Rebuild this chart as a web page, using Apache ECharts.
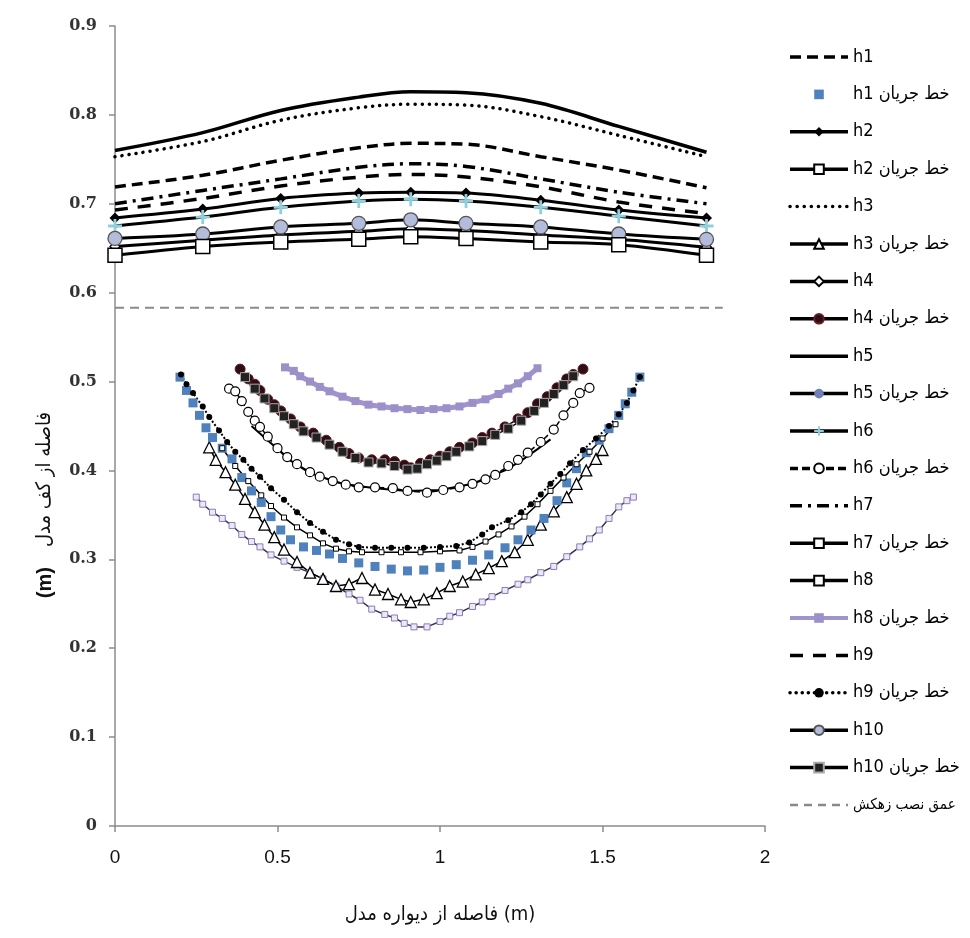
<!DOCTYPE html>
<html>
<head>
<meta charset="utf-8">
<script src="https://cdn.jsdelivr.net/npm/echarts@6/dist/echarts.min.js"></script>
<style>html,body{margin:0;padding:0;background:#fff}#c{width:970px;height:938px}</style>
</head>
<body>
<div id="c"></div>
<script>
// ---- tick labels ----
const xTicks = [0, 0.5, 1, 1.5, 2];
const yTicks = [0, 0.1, 0.2, 0.3, 0.4, 0.5, 0.6, 0.7, 0.8, 0.9];

// ---- water-surface profiles (x positions of the measuring points) ----
const xTop = [0, 0.27, 0.51, 0.75, 0.91, 1.08, 1.31, 1.55, 1.82];
const h1  = [0.719, 0.732, 0.749, 0.763, 0.768, 0.767, 0.753, 0.738, 0.718];
const h2  = [0.684, 0.694, 0.706, 0.712, 0.713, 0.712, 0.704, 0.693, 0.684];
const h3  = [0.753, 0.770, 0.794, 0.808, 0.812, 0.811, 0.798, 0.777, 0.753];
const h4  = [0.652, 0.659, 0.665, 0.669, 0.672, 0.670, 0.665, 0.660, 0.651];
const h5  = [0.760, 0.780, 0.805, 0.820, 0.826, 0.825, 0.813, 0.787, 0.758];
const h6  = [0.675, 0.685, 0.696, 0.703, 0.705, 0.703, 0.696, 0.686, 0.675];
const h7  = [0.700, 0.715, 0.728, 0.741, 0.745, 0.742, 0.728, 0.713, 0.700];
const h8  = [0.642, 0.652, 0.657, 0.660, 0.663, 0.661, 0.657, 0.654, 0.642];
const h9  = [0.693, 0.706, 0.720, 0.730, 0.733, 0.730, 0.719, 0.702, 0.689];
const h10 = [0.661, 0.666, 0.674, 0.678, 0.682, 0.678, 0.674, 0.666, 0.660];

// ---- drain installation depth ----
const drainDepth = 0.583;
const drainX = [0, 1.87];

// ---- streamlines [x, y] ----
const s1 = [[0.20,0.505],[0.22,0.49],[0.24,0.476],[0.26,0.462],[0.28,0.448],[0.30,0.437],[0.33,0.425],[0.36,0.413],[0.39,0.392],[0.42,0.377],[0.45,0.364],[0.48,0.348],[0.51,0.333],[0.54,0.322],[0.58,0.314],[0.62,0.310],[0.66,0.306],[0.70,0.301],[0.75,0.296],[0.80,0.292],[0.85,0.289],[0.90,0.287],[0.95,0.288],[1.00,0.291],[1.05,0.294],[1.10,0.299],[1.15,0.305],[1.20,0.313],[1.24,0.322],[1.28,0.333],[1.32,0.346],[1.36,0.366],[1.39,0.386],[1.42,0.402],[1.45,0.420],[1.49,0.434],[1.52,0.447],[1.55,0.462],[1.57,0.475],[1.59,0.488],[1.615,0.505]];
const s2 = [[0.33,0.425],[0.37,0.405],[0.41,0.388],[0.45,0.372],[0.48,0.360],[0.52,0.347],[0.56,0.336],[0.60,0.327],[0.64,0.318],[0.68,0.312],[0.72,0.309],[0.76,0.308],[0.82,0.308],[0.88,0.308],[0.94,0.308],[1.00,0.309],[1.06,0.310],[1.10,0.314],[1.14,0.320],[1.18,0.328],[1.22,0.337],[1.26,0.348],[1.30,0.362],[1.34,0.377],[1.38,0.392],[1.42,0.407],[1.46,0.421],[1.50,0.436],[1.54,0.452]];
const s3 = [[0.29,0.426],[0.31,0.412],[0.34,0.398],[0.37,0.384],[0.40,0.368],[0.43,0.353],[0.46,0.339],[0.49,0.325],[0.52,0.311],[0.56,0.297],[0.60,0.285],[0.64,0.278],[0.68,0.270],[0.72,0.272],[0.76,0.279],[0.80,0.266],[0.84,0.261],[0.88,0.255],[0.91,0.252],[0.95,0.255],[0.99,0.262],[1.03,0.270],[1.07,0.275],[1.11,0.283],[1.15,0.290],[1.19,0.298],[1.23,0.308],[1.27,0.322],[1.31,0.339],[1.35,0.354],[1.39,0.370],[1.42,0.385],[1.45,0.400],[1.48,0.413],[1.50,0.423]];
const s4 = [[0.385,0.514],[0.41,0.503],[0.43,0.497],[0.446,0.490],[0.47,0.480],[0.49,0.474],[0.51,0.467],[0.54,0.458],[0.57,0.449],[0.61,0.442],[0.65,0.434],[0.69,0.426],[0.72,0.419],[0.75,0.414],[0.79,0.412],[0.83,0.412],[0.86,0.410],[0.89,0.406],[0.91,0.403],[0.94,0.408],[0.97,0.412],[1.00,0.416],[1.03,0.421],[1.06,0.426],[1.10,0.431],[1.13,0.437],[1.16,0.442],[1.20,0.449],[1.24,0.458],[1.27,0.465],[1.30,0.475],[1.33,0.483],[1.36,0.493],[1.39,0.503],[1.41,0.508],[1.44,0.514]];
const s5 = [[0.42,0.450],[0.46,0.437],[0.50,0.424],[0.54,0.411],[0.60,0.397],[0.70,0.385],[0.80,0.380],[0.90,0.377],[1.00,0.378],[1.10,0.385],[1.20,0.400],[1.25,0.411],[1.30,0.424],[1.34,0.435]];
const s6 = [[0.351,0.492],[0.37,0.489],[0.39,0.478],[0.41,0.466],[0.43,0.456],[0.446,0.449],[0.47,0.438],[0.50,0.425],[0.53,0.415],[0.56,0.407],[0.60,0.398],[0.63,0.393],[0.67,0.388],[0.71,0.384],[0.75,0.381],[0.80,0.381],[0.855,0.380],[0.90,0.377],[0.96,0.375],[1.01,0.378],[1.06,0.381],[1.10,0.385],[1.14,0.390],[1.17,0.395],[1.21,0.405],[1.24,0.412],[1.27,0.420],[1.31,0.432],[1.35,0.446],[1.38,0.462],[1.41,0.476],[1.43,0.487],[1.46,0.493]];
const s7 = [[0.25,0.370],[0.27,0.362],[0.30,0.353],[0.33,0.346],[0.36,0.338],[0.39,0.328],[0.42,0.320],[0.446,0.314],[0.48,0.305],[0.52,0.298],[0.56,0.291],[0.60,0.285],[0.64,0.278],[0.68,0.270],[0.72,0.261],[0.754,0.254],[0.79,0.244],[0.83,0.238],[0.86,0.234],[0.89,0.228],[0.92,0.224],[0.96,0.224],[1.00,0.230],[1.03,0.236],[1.06,0.240],[1.10,0.247],[1.13,0.252],[1.16,0.258],[1.20,0.265],[1.24,0.272],[1.27,0.277],[1.31,0.285],[1.35,0.292],[1.39,0.303],[1.43,0.314],[1.46,0.323],[1.49,0.333],[1.52,0.346],[1.55,0.359],[1.575,0.366],[1.595,0.370]];
const s8 = [[0.523,0.516],[0.55,0.512],[0.57,0.506],[0.60,0.500],[0.63,0.494],[0.66,0.489],[0.70,0.483],[0.74,0.478],[0.78,0.474],[0.82,0.472],[0.86,0.470],[0.90,0.469],[0.94,0.468],[0.98,0.469],[1.02,0.470],[1.06,0.472],[1.10,0.476],[1.14,0.480],[1.18,0.486],[1.21,0.492],[1.24,0.498],[1.27,0.506],[1.30,0.515]];
const s9 = [[0.203,0.508],[0.22,0.497],[0.24,0.487],[0.27,0.472],[0.29,0.460],[0.32,0.445],[0.345,0.432],[0.37,0.421],[0.395,0.412],[0.42,0.402],[0.446,0.393],[0.48,0.380],[0.52,0.367],[0.56,0.353],[0.60,0.341],[0.64,0.331],[0.68,0.322],[0.72,0.317],[0.75,0.314],[0.80,0.313],[0.85,0.313],[0.90,0.313],[0.95,0.313],[1.00,0.314],[1.05,0.315],[1.09,0.319],[1.13,0.328],[1.16,0.336],[1.21,0.344],[1.25,0.353],[1.28,0.362],[1.31,0.373],[1.34,0.385],[1.37,0.396],[1.40,0.408],[1.44,0.423],[1.48,0.436],[1.52,0.450],[1.55,0.463],[1.575,0.476],[1.595,0.490],[1.615,0.505]];
const s10 = [[0.40,0.505],[0.43,0.492],[0.46,0.481],[0.49,0.470],[0.52,0.461],[0.55,0.452],[0.58,0.444],[0.62,0.437],[0.66,0.429],[0.70,0.421],[0.74,0.414],[0.78,0.409],[0.82,0.408],[0.86,0.405],[0.90,0.401],[0.93,0.402],[0.96,0.407],[0.99,0.411],[1.02,0.416],[1.05,0.421],[1.09,0.427],[1.13,0.433],[1.17,0.440],[1.21,0.447],[1.25,0.456],[1.29,0.467],[1.32,0.476],[1.35,0.486],[1.38,0.496],[1.41,0.506]];

const NAMES = ['h1','h1 خط جریان','h2','h2 خط جریان','h3','h3 خط جریان','h4','h4 خط جریان','h5','h5 خط جریان','h6','h6 خط جریان','h7','h7 خط جریان','h8','h8 خط جریان','h9','h9 خط جریان','h10','h10 خط جریان','عمق نصب زهکش'];

function zipTop(vals){ return xTop.map((x,i)=>[x, vals[i]]); }
const plusPath = 'path://M4,0H6V4H10V6H6V10H4V6H0V4H4Z';

const topLine = (name, vals, ls, extra) => Object.assign({
  name, type:'line', data: zipTop(vals), smooth:0.35, symbol:'none',
  itemStyle:{color:'#000'},
  lineStyle: Object.assign({color:'#000', width:3}, ls), z:3
}, extra||{});

const series = [
  {name:NAMES[15], type:'line', data:s8, symbol:'rect', symbolSize:8, lineStyle:{color:'#a094cc', width:5}, itemStyle:{color:'#9d90c8'}},
  {name:NAMES[13], type:'line', data:s7, symbol:'rect', symbolSize:6, lineStyle:{color:'#3d3050', width:1.5}, itemStyle:{color:'#ece8f6', borderColor:'#8a7cb8', borderWidth:1}},
  {name:NAMES[5], type:'line', data:s3, symbol:'triangle', symbolSize:11, lineStyle:{color:'#000', width:1.5}, itemStyle:{color:'#fff', borderColor:'#000', borderWidth:1.3}},
  {name:NAMES[1], type:'line', data:s1, symbol:'rect', symbolSize:9, lineStyle:{color:'#4f81bd', width:0, opacity:0}, itemStyle:{color:'#4f81bd'}},
  {name:NAMES[3], type:'line', data:s2, symbol:'rect', symbolSize:5, lineStyle:{color:'#000', width:1.5}, itemStyle:{color:'#fff', borderColor:'#000', borderWidth:1}},
  {name:NAMES[17], type:'line', data:s9, symbol:'circle', symbolSize:6, lineStyle:{color:'#000', width:2, type:'dotted'}, itemStyle:{color:'#000'}},
  {name:NAMES[11], type:'line', data:s6, symbol:'circle', symbolSize:9, lineStyle:{color:'#000', width:1.5, type:'dashed'}, itemStyle:{color:'#fff', borderColor:'#000', borderWidth:1.2}},
  {name:NAMES[9], type:'line', data:s5, symbol:'none', lineStyle:{color:'#000', width:2}, itemStyle:{color:'#6b7fb0'}},
  {name:NAMES[7], type:'line', data:s4, symbol:'circle', symbolSize:10, lineStyle:{color:'#000', width:1.5}, itemStyle:{color:'#2b0f14', borderColor:'#6a1a24', borderWidth:1}},
  {name:NAMES[19], type:'line', data:s10, symbol:'rect', symbolSize:9, lineStyle:{color:'#000', width:1.5}, itemStyle:{color:'#222', borderColor:'#aaa', borderWidth:1}},
  {name:NAMES[20], type:'line', data:drainX.map(x=>[x,drainDepth]), symbol:'none', lineStyle:{color:'#8a8a8a', width:2, type:[9,6]}, itemStyle:{color:'#8a8a8a'}},
  topLine(NAMES[8], h5, {width:3.5}),
  topLine(NAMES[4], h3, {width:3.5, type:[0.1,7], cap:'round'}),
  topLine(NAMES[0], h1, {width:3.5, type:[11,6]}),
  topLine(NAMES[12], h7, {width:3.5, type:[12,6,3,6]}),
  topLine(NAMES[16], h9, {width:3.5, type:[13,10]}),
  topLine(NAMES[2], h2, {}, {symbol:'diamond', symbolSize:11, itemStyle:{color:'#000'}}),
  topLine(NAMES[6], h4, {}, {symbol:'diamond', symbolSize:10, itemStyle:{color:'#fff', borderColor:'#000', borderWidth:1.3}}),
  topLine(NAMES[10], h6, {}, {symbol:plusPath, symbolSize:14, itemStyle:{color:'#8fd0dc'}}),
  topLine(NAMES[18], h10, {}, {symbol:'circle', symbolSize:14, itemStyle:{color:'#b4bcdc', borderColor:'#555', borderWidth:1.3}}),
  topLine(NAMES[14], h8, {}, {symbol:'rect', symbolSize:14, itemStyle:{color:'#fff', borderColor:'#000', borderWidth:1.5}})
];

// legend entries: plain-line entries hide the marker; all legend lines drawn thick
const noMarker = [NAMES[0], NAMES[4], NAMES[8], NAMES[12], NAMES[16], NAMES[20]];
const legendData = NAMES.map(n => {
  if (n === NAMES[13]) return {name:n, itemStyle:{color:'#fff', borderColor:'#000'}, lineStyle:{color:'#000', width:3.5, type:'solid'}};
  if (n === NAMES[1]) return {name:n, lineStyle:{opacity:0, width:0}};
  if (n === NAMES[20]) return {name:n, itemStyle:{opacity:0}, lineStyle:{width:2.5, type:[8,6]}, textStyle:{fontSize:15}};
  if (n === NAMES[15]) return {name:n, lineStyle:{width:4}};
  if (n === NAMES[9]) return {name:n, itemStyle:{color:'#7080b8'}, lineStyle:{width:3.5, type:'solid'}};
  if (n === NAMES[11]) return {name:n, lineStyle:{width:3.5, type:[8,4]}};
  if (n === NAMES[17]) return {name:n, lineStyle:{width:3.5, type:[0.1,6], cap:'round'}};
  if (noMarker.includes(n)) return {name:n, itemStyle:{opacity:0}, lineStyle:{width:3.5}};
  return {name:n, lineStyle:{width:3.5}};
});

const chart = echarts.init(document.getElementById('c'), null, {renderer:'canvas'});
chart.setOption({
  animation:false,
  backgroundColor:'#fff',
  grid:{left:115, right:205, top:26, bottom:112, containLabel:false},
  legend:{
    orient:'vertical', left:783, top:42, data:legendData,
    itemWidth:58, itemHeight:12, itemGap:17.4,
    textStyle:{fontSize:18, lineHeight:20, color:'#000', fontFamily:"'Liberation Sans Narrow','DejaVu Sans Condensed','DejaVu Sans',sans-serif"}
  },
  xAxis:{
    type:'value', min:xTicks[0], max:xTicks[xTicks.length-1], interval:0.5,
    axisLine:{show:true, lineStyle:{color:'#8c8c8c', width:1.5}},
    axisTick:{show:true, length:6, lineStyle:{color:'#8c8c8c', width:1.5}},
    splitLine:{show:false},
    axisLabel:{margin:22, fontSize:19, color:'#111', fontFamily:"'Liberation Sans Narrow','Liberation Sans',sans-serif"},
    name:'فاصله از دیواره مدل (m)', nameLocation:'middle', nameGap:79,
    nameTextStyle:{fontSize:20, color:'#111', fontFamily:"'DejaVu Sans Condensed','DejaVu Sans',sans-serif"}
  },
  yAxis:{
    type:'value', min:yTicks[0], max:yTicks[yTicks.length-1], interval:0.1,
    axisLine:{show:true, lineStyle:{color:'#8c8c8c', width:1.5}},
    axisTick:{show:true, length:6, lineStyle:{color:'#8c8c8c', width:1.5}},
    splitLine:{show:false},
    axisLabel:{margin:18, fontSize:16, fontWeight:'bold', color:'#333', fontFamily:"'DejaVu Serif',serif",
      formatter:v=>String(parseFloat(v.toFixed(1)))}
  },
  graphic:[{
    type:'text', x:45, y:505, rotation:Math.PI/2,
    style:{
      text:'{a|(m)}      {b|فاصله از کف مدل}',
      align:'center', verticalAlign:'middle',
      rich:{
        a:{fontSize:20, fontWeight:'bold', fill:'#111', fontFamily:"'Liberation Sans','DejaVu Sans',sans-serif"},
        b:{fontSize:20, fill:'#111', fontFamily:"'DejaVu Sans Condensed','DejaVu Sans',sans-serif"}
      }
    }
  }],
  series
});
</script>
</body>
</html>
